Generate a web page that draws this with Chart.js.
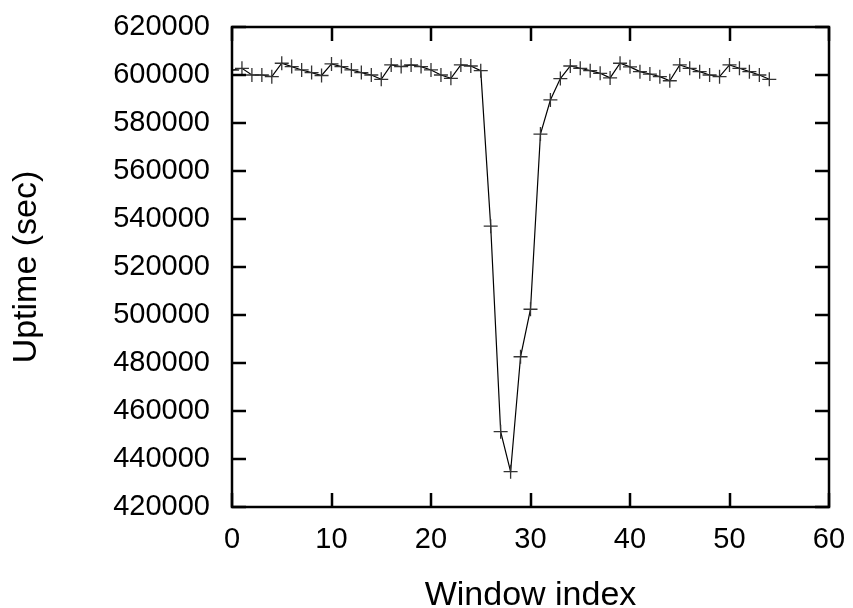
<!DOCTYPE html>
<html>
<head>
<meta charset="utf-8">
<script src="https://cdn.jsdelivr.net/npm/chart.js@4.4.1/dist/chart.umd.min.js"></script>
<style>
  html, body { margin: 0; padding: 0; background: #fff; }
  #wrap { width: 853px; height: 608px; }
</style>
</head>
<body>
<div id="wrap"><canvas id="uptimeChart" width="853" height="608"></canvas></div>
<script>
// window index / uptime
var windowIndex = [0, 1, 2, 3, 4, 5, 6, 7, 8, 9,
    10, 11, 12, 13, 14, 15, 16, 17, 18, 19,
    20, 21, 22, 23, 24, 25, 26, 27, 28, 29,
    30, 31, 32, 33, 34, 35, 36, 37, 38, 39,
    40, 41, 42, 43, 44, 45, 46, 47, 48, 49,
    50, 51, 52, 53, 54];
var uptime = [602000, 602800, 600000, 600000, 599300, 604900, 603500, 602100, 601000, 599800,
    604600, 603500, 602100, 601000, 600000, 598200, 604200, 603500, 604200, 603500,
    602100, 600000, 598600, 604200, 603750, 601800, 537000, 451400, 434700, 482600,
    502400, 575400, 589600, 598500, 603750, 602800, 601800, 600700, 598800, 604900,
    603400, 601400, 600400, 599300, 597600, 604200, 602800, 601400, 600000, 599300,
    604200, 602800, 601400, 600000, 598200];
var xTicks = [0, 10, 20, 30, 40, 50, 60];
var yTicks = [420000, 440000, 460000, 480000, 500000, 520000, 540000, 560000, 580000, 600000, 620000];

var points = [];
for (var i = 0; i < windowIndex.length; i++) {
    points.push({x: windowIndex[i], y: uptime[i]});
}

// gnuplot style frame with inward ticks on all four sides
var framePlugin = {
    id: 'frame',
    afterDatasetsDraw: function (chart) {
        var ctx = chart.ctx;
        var a = chart.chartArea;
        var xs = chart.scales.x, ys = chart.scales.y;
        var len = 14;
        ctx.save();
        ctx.strokeStyle = '#000';
        ctx.lineWidth = 2.5;
        ctx.beginPath();
        xTicks.forEach(function (t) {
            var px = Math.round(xs.getPixelForValue(t));
            ctx.moveTo(px, a.bottom);
            ctx.lineTo(px, a.bottom - len);
            ctx.moveTo(px, a.top);
            ctx.lineTo(px, a.top + len);
        });
        yTicks.forEach(function (t) {
            var py = Math.round(ys.getPixelForValue(t));
            ctx.moveTo(a.left, py);
            ctx.lineTo(a.left + len, py);
            ctx.moveTo(a.right, py);
            ctx.lineTo(a.right - len, py);
        });
        ctx.stroke();
        ctx.strokeRect(a.left, a.top, a.right - a.left, a.bottom - a.top);
        ctx.restore();
    }
};

var ctx = document.getElementById("uptimeChart");
var myChart = new Chart(ctx, {
    type: 'line',
    data: {
        datasets: [{
                "data": points,
                "borderColor": "#000",
                "borderWidth": 1.2,
                "pointStyle": "cross",
                "pointRadius": 7,
                "pointBorderWidth": 1.3,
                "pointBorderColor": "#333",
                "pointBackgroundColor": "#333",
                "tension": 0,
                "fill": false
            }]
    },
    options: {
        responsive: false,
        animation: false,
        devicePixelRatio: 1,
        layout: {padding: {top: 27, right: 24, left: 6, bottom: 0}},
        plugins: {legend: {display: false}, tooltip: {enabled: false}},
        scales: {
            x: {
                type: 'linear',
                min: 0,
                max: 60,
                afterBuildTicks: function (scale) {
                    scale.ticks = xTicks.map(function (v) { return {value: v}; });
                },
                afterFit: function (scale) {
                    scale.height = 101;
                    scale.paddingLeft = 0;
                    scale.paddingRight = 0;
                },
                grid: {display: false, drawTicks: false},
                border: {display: false},
                ticks: {
                    color: '#000',
                    padding: 16,
                    maxRotation: 0,
                    font: {family: 'Liberation Sans', size: 29},
                    callback: function (v) { return String(v); }
                },
                title: {
                    display: true,
                    text: 'Window index',
                    color: '#000',
                    padding: {top: 6, bottom: -8},
                    font: {family: 'Liberation Sans', size: 34}
                }
            },
            y: {
                type: 'linear',
                min: 420000,
                max: 620000,
                afterBuildTicks: function (scale) {
                    scale.ticks = yTicks.map(function (v) { return {value: v}; });
                },
                afterFit: function (scale) {
                    scale.width = 226;
                    scale.paddingTop = 0;
                    scale.paddingBottom = 0;
                },
                grid: {display: false, drawTicks: false},
                border: {display: false},
                ticks: {
                    color: '#000',
                    padding: 22,
                    font: {family: 'Liberation Sans', size: 29},
                    callback: function (v) { return String(v); }
                },
                title: {
                    display: true,
                    text: 'Uptime (sec)',
                    color: '#000',
                    padding: {top: 0, bottom: 0},
                    font: {family: 'Liberation Sans', size: 34}
                }
            }
        }
    },
    plugins: [framePlugin]
});
</script>
</body>
</html>
